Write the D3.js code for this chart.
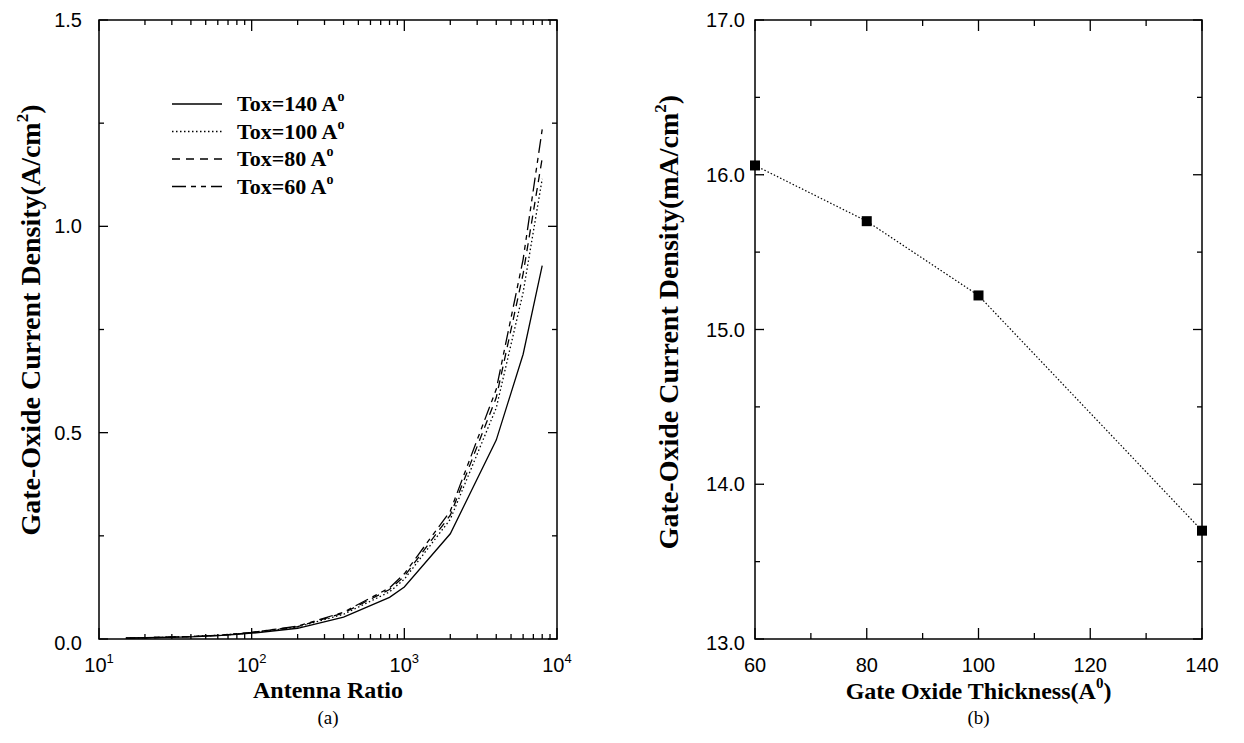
<!DOCTYPE html>
<html>
<head>
<meta charset="utf-8">
<script src="https://cdn.jsdelivr.net/npm/d3@7"></script>
<style>
  html, body { margin: 0; padding: 0; background: #fff; }
  svg { display: block; }
  .tick-label { font-family: "Liberation Sans", Arial, sans-serif; font-size: 20px; fill: #000; }
  .title { font-family: "Liberation Serif", "Times New Roman", serif; font-weight: bold; font-size: 24px; fill: #000; }
  .ytitle { font-family: "Liberation Serif", "Times New Roman", serif; font-weight: bold; font-size: 28px; fill: #000; }
  .legend { font-family: "Liberation Serif", "Times New Roman", serif; font-weight: bold; font-size: 22px; fill: #000; }
  .caption { font-family: "Liberation Serif", "Times New Roman", serif; font-size: 19px; fill: #000; }
</style>
</head>
<body>
<svg id="chart" width="1244" height="743"></svg>
<script>
// ---- (a) gate-oxide current density vs antenna ratio ----
const antennaRatio = [15, 20, 40, 60, 80, 100, 200, 400, 800, 1000, 2000, 4000, 6000, 8000];
const tox140 = [0.002, 0.003, 0.005, 0.008, 0.011, 0.014, 0.026, 0.053, 0.101, 0.126, 0.255, 0.482, 0.69, 0.905];
const tox100 = [0.002, 0.003, 0.006, 0.009, 0.012, 0.015, 0.029, 0.060, 0.114, 0.145, 0.290, 0.560, 0.84, 1.115];
const tox80  = [0.002, 0.003, 0.006, 0.009, 0.012, 0.016, 0.030, 0.063, 0.120, 0.152, 0.300, 0.585, 0.885, 1.165];
const tox60  = [0.002, 0.003, 0.006, 0.009, 0.013, 0.016, 0.031, 0.065, 0.124, 0.158, 0.310, 0.605, 0.92, 1.235];
const seriesNames = ["Tox=140 A", "Tox=100 A", "Tox=80 A", "Tox=60 A"];
const ratioMajorTicks = [10, 100, 1000, 10000];
const ratioTickExp = ["1", "2", "3", "4"];
const densityTicks = [0.0, 0.5, 1.0, 1.5];
const densityMinorTicks = [0.25, 0.75, 1.25];

// ---- (b) gate-oxide current density vs oxide thickness ----
const thickness = [60, 80, 100, 140];
const densityMA = [16.06, 15.70, 15.22, 13.70];
const thicknessTicks = [60, 80, 100, 120, 140];
const thicknessMinorTicks = [70, 90, 110, 130];
const densityMATicks = [13.0, 14.0, 15.0, 16.0, 17.0];
const densityMAMinorTicks = [13.5, 14.5, 15.5, 16.5];

const svg = d3.select("#chart");
const MAJ = 9, MIN = 5;

function frame(g, w, h) {
  g.append("rect").attr("x", 0).attr("y", 0).attr("width", w).attr("height", h)
    .attr("fill", "none").attr("stroke", "#000").attr("stroke-width", 1.5);
}

function inwardTicks(g, scale, values, len, orient, w, h) {
  // ticks on both opposite sides of the frame, pointing into the plot
  values.forEach(v => {
    const p = scale(v);
    if (orient === "x") {
      g.append("line").attr("x1", p).attr("x2", p).attr("y1", h).attr("y2", h - len);
      g.append("line").attr("x1", p).attr("x2", p).attr("y1", 0).attr("y2", len);
    } else {
      g.append("line").attr("y1", p).attr("y2", p).attr("x1", 0).attr("x2", len);
      g.append("line").attr("y1", p).attr("y2", p).attr("x1", w).attr("x2", w - len);
    }
  });
  g.selectAll("line").attr("stroke", "#000").attr("stroke-width", 1.3);
}

const TOP = 20, BOTTOM = 639;

// ================= panel (a) =================
const A = { x: 99, y: TOP, w: 458, h: BOTTOM - TOP };
const ga = svg.append("g").attr("transform", `translate(${A.x},${A.y})`);
const xa = d3.scaleLog().domain([10, 10000]).range([0, A.w]);
const ya = d3.scaleLinear().domain([0, 1.5]).range([A.h, 0]);

const ratioMinor = [];
[10, 100, 1000].forEach(d => { for (let k = 2; k <= 9; k++) ratioMinor.push(d * k); });

const tga = ga.append("g");
inwardTicks(tga.append("g"), xa, ratioMajorTicks, MAJ + 2, "x", A.w, A.h);
inwardTicks(tga.append("g"), xa, ratioMinor, MIN, "x", A.w, A.h);
inwardTicks(tga.append("g"), ya, densityTicks, MAJ, "y", A.w, A.h);
inwardTicks(tga.append("g"), ya, densityMinorTicks, MIN, "y", A.w, A.h);
frame(ga, A.w, A.h);

// x tick labels 10^n
ratioMajorTicks.forEach((v, i) => {
  const t = ga.append("text").attr("class", "tick-label")
    .attr("x", xa(v)).attr("y", A.h + 33).attr("text-anchor", "middle");
  t.append("tspan").text("10");
  t.append("tspan").attr("dy", -9).attr("font-size", 13).text(ratioTickExp[i]);
});
// y tick labels
densityTicks.forEach(v => {
  ga.append("text").attr("class", "tick-label")
    .attr("x", -17).attr("y", ya(v) + 7 + (v === 0 ? 4 : 0)).attr("text-anchor", "end")
    .text(d3.format(".1f")(v));
});

const dashes = [null, "1.5,2.5", "8,6", "14,5,5,5,5,5"];
const allSeries = [tox140, tox100, tox80, tox60];
const lineA = d3.line().x(d => xa(d[0])).y(d => ya(d[1]));
allSeries.forEach((s, i) => {
  ga.append("path")
    .datum(antennaRatio.map((r, j) => [r, s[j]]))
    .attr("d", lineA).attr("fill", "none").attr("stroke", "#000")
    .attr("stroke-width", 1.3)
    .attr("stroke-dasharray", dashes[i]);
});

// legend
const lg = svg.append("g").attr("transform", "translate(172,104)");
seriesNames.forEach((name, i) => {
  const row = lg.append("g").attr("transform", `translate(0,${i * 27.5})`);
  row.append("line").attr("x1", 0).attr("x2", 50).attr("y1", 0).attr("y2", 0)
    .attr("stroke", "#000").attr("stroke-width", 1.3)
    .attr("stroke-dasharray", dashes[i]);
  const t = row.append("text").attr("class", "legend").attr("x", 65).attr("y", 7);
  t.append("tspan").text(name);
  t.append("tspan").attr("dy", -10).attr("font-size", 14).text("o");
});

// axis titles (a)
svg.append("text").attr("class", "title")
  .attr("x", A.x + A.w / 2).attr("y", 698).attr("text-anchor", "middle").text("Antenna Ratio");
const yta = svg.append("text").attr("class", "ytitle")
  .attr("transform", "translate(40,320) rotate(-90)")
  .attr("text-anchor", "middle");
yta.append("tspan").text("Gate-Oxide Current Density(A/cm");
yta.append("tspan").attr("dy", -12).attr("font-size", 17).text("2");
yta.append("tspan").attr("dy", 12).text(")");
svg.append("text").attr("class", "caption")
  .attr("x", A.x + A.w / 2).attr("y", 724).attr("text-anchor", "middle").text("(a)");

// ================= panel (b) =================
const B = { x: 755, y: TOP, w: 447, h: BOTTOM - TOP };
const gb = svg.append("g").attr("transform", `translate(${B.x},${B.y})`);
const xb = d3.scaleLinear().domain([60, 140]).range([0, B.w]);
const yb = d3.scaleLinear().domain([13, 17]).range([B.h, 0]);

const tgb = gb.append("g");
inwardTicks(tgb.append("g"), xb, thicknessTicks, MAJ + 2, "x", B.w, B.h);
inwardTicks(tgb.append("g"), xb, thicknessMinorTicks, MIN + 1, "x", B.w, B.h);
inwardTicks(tgb.append("g"), yb, densityMATicks, MAJ, "y", B.w, B.h);
inwardTicks(tgb.append("g"), yb, densityMAMinorTicks, MIN, "y", B.w, B.h);
frame(gb, B.w, B.h);

thicknessTicks.forEach(v => {
  gb.append("text").attr("class", "tick-label")
    .attr("x", xb(v)).attr("y", B.h + 33).attr("text-anchor", "middle").text(v);
});
densityMATicks.forEach(v => {
  gb.append("text").attr("class", "tick-label")
    .attr("x", -10).attr("y", yb(v) + 7 + (v === 13 ? 4 : 0)).attr("text-anchor", "end")
    .text(d3.format(".1f")(v));
});

const ptsB = thickness.map((t, i) => [t, densityMA[i]]);
gb.append("path").datum(ptsB)
  .attr("d", d3.line().x(d => xb(d[0])).y(d => yb(d[1])))
  .attr("fill", "none").attr("stroke", "#000").attr("stroke-width", 1.2)
  .attr("stroke-dasharray", "1.5,2");
gb.selectAll("rect.pt").data(ptsB).enter().append("rect")
  .attr("class", "pt")
  .attr("x", d => xb(d[0]) - 5).attr("y", d => yb(d[1]) - 5)
  .attr("width", 10).attr("height", 10).attr("fill", "#000");

const xtb = svg.append("text").attr("class", "title")
  .attr("x", B.x + B.w / 2).attr("y", 699).attr("text-anchor", "middle");
xtb.append("tspan").text("Gate Oxide Thickness(A");
xtb.append("tspan").attr("dy", -11).attr("font-size", 15).text("0");
xtb.append("tspan").attr("dy", 11).text(")");
const ytb = svg.append("text").attr("class", "ytitle")
  .attr("transform", "translate(678,322) rotate(-90)")
  .attr("text-anchor", "middle");
ytb.append("tspan").text("Gate-Oxide Current Density(mA/cm");
ytb.append("tspan").attr("dy", -12).attr("font-size", 17).text("2");
ytb.append("tspan").attr("dy", 12).text(")");
svg.append("text").attr("class", "caption")
  .attr("x", B.x + B.w / 2).attr("y", 724).attr("text-anchor", "middle").text("(b)");
</script>
</body>
</html>
